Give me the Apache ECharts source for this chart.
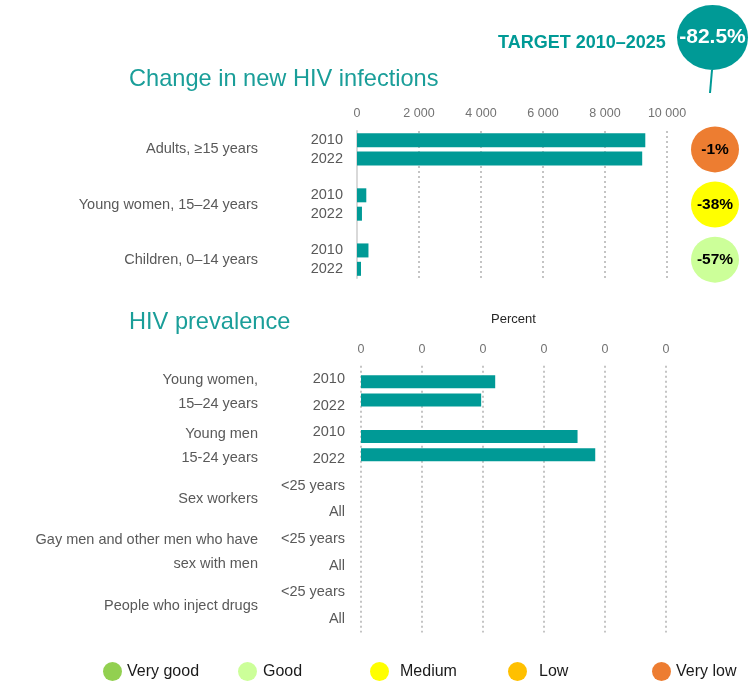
<!DOCTYPE html>
<html>
<head>
<meta charset="utf-8">
<title>Change in new HIV infections / HIV prevalence</title>
<script src="https://cdn.jsdelivr.net/npm/echarts@6.0.0/dist/echarts.min.js"></script>
<style>
  html, body { margin: 0; padding: 0; background: #fff; }
  #chart { width: 750px; height: 686px; }
</style>
</head>
<body>
<div id="chart"></div>
<script>
// --- change in new HIV infections ---
const infectionGroups = ['Adults, ≥15 years', 'Young women, 15–24 years', 'Children, 0–14 years'];
const infections2010 = [9300, 300, 370];
const infections2022 = [9200, 160, 130];
const infectionChange = ['-1%', '-38%', '-57%'];
const infectionRating = ['Very low', 'Medium', 'Good'];
const infectionTicks = ['0', '2 000', '4 000', '6 000', '8 000', '10 000'];

// --- HIV prevalence ---
const prevalenceGroups = ['Young women,\n15–24 years', 'Young men\n15-24 years', 'Sex workers',
  'Gay men and other men who have\nsex with men', 'People who inject drugs'];
const prevalenceRowLabels = [['2010', '2022'], ['2010', '2022'], ['<25 years', 'All'], ['<25 years', 'All'], ['<25 years', 'All']];
const prevalence2010 = [0.22, 0.355];
const prevalence2022 = [0.197, 0.384];
const prevalenceTicks = ['0', '0', '0', '0', '0', '0'];

const targetLabel = 'TARGET 2010–2025';
const targetChange = '-82.5%';

const ratings = ['Very good', 'Good', 'Medium', 'Low', 'Very low'];
const ratingColors = ['#92d050', '#ccff99', '#ffff00', '#ffc000', '#ed7d31'];

const teal = '#009a96';
const titleTeal = '#1a9e99';
const labelGrey = '#595959';
const dots = { color: '#c4c4c4', type: [2, 3], width: 2 };
const ellipse = 'path://M50,0A50,50,0,1,1,50,100A50,50,0,1,1,50,0Z';

// top chart rows: 2010, 2022, spacer, 2010, 2022, ...
const infRows = [];
const infBars = [];
const infCentre = [];
infectionGroups.forEach((g, i) => {
  if (i > 0) { infRows.push(''); infBars.push('-'); }
  infCentre.push(infRows.length + 1);
  infRows.push('2010', '2022');
  infBars.push(infections2010[i], infections2022[i]);
});
const infGroupAxis = new Array(infRows.length + 1).fill('');
infectionGroups.forEach((g, i) => { infGroupAxis[infCentre[i]] = g; });

// bottom chart label rows (two per group)
const prevRows = [];
prevalenceRowLabels.forEach(r => prevRows.push(r[0], r[1]));
const prevGroupAxis = new Array(prevRows.length + 1).fill('');
prevalenceGroups.forEach((g, i) => { prevGroupAxis[2 * i + 1] = g; });

// bottom chart bar rows
const prevBarRows = [];
const prevBars = [];
prevalence2010.forEach((v, i) => {
  if (i > 0) { prevBarRows.push(''); prevBars.push('-'); }
  prevBarRows.push('2010', '2022');
  prevBars.push(prevalence2010[i], prevalence2022[i]);
});

const tickFmt = (labels, step) => v => labels[Math.round(v / step)] ?? '';

const chart = echarts.init(document.getElementById('chart'));

const ratingSeries = ratings.map((r, k) => ({
  name: r,
  type: 'scatter',
  xAxisIndex: 3,
  yAxisIndex: 5,
  symbol: ellipse,
  symbolSize: [48, 46],
  clip: false,
  itemStyle: { color: ratingColors[k], opacity: 1 },
  label: { show: true, position: 'inside', formatter: '{b}', color: '#000', fontWeight: 'bold', fontSize: 15.5 },
  data: infectionGroups
    .map((g, i) => infectionRating[i] === r ? { name: infectionChange[i], value: [0, infCentre[i]] } : null)
    .filter(Boolean)
}));

const legendLeft = [103, 238, 370, 508, 652];
const legendTextPad = [0, 1, 6, 7, 0];

chart.setOption({
  animation: false,
  textStyle: { fontFamily: '"Liberation Sans", Arial, sans-serif' },
  title: [
    { text: 'Change in new HIV infections', left: 129, top: 67, padding: 0,
      textStyle: { color: titleTeal, fontSize: 23.6, fontWeight: 'normal' } },
    { text: 'HIV prevalence', left: 129, top: 310, padding: 0,
      textStyle: { color: titleTeal, fontSize: 23.6, fontWeight: 'normal' } },
    { text: targetLabel, left: 498, top: 34, padding: 0,
      textStyle: { color: teal, fontSize: 18, fontWeight: 'bold' } }
  ],
  legend: ratings.map((r, k) => ({
    data: [r],
    left: legendLeft[k],
    top: 662,
    padding: 0,
    icon: 'circle',
    itemWidth: 19,
    itemHeight: 19,
    selectedMode: false,
    itemStyle: { opacity: 1 },
    textStyle: { fontSize: 16, color: '#1a1a1a', padding: [0, 0, 0, legendTextPad[k]] }
  })),
  grid: [
    { left: 357, right: 83, top: 131, height: 147, outerBoundsMode: 'none' },
    { left: 361, right: 84, top: 365.7, height: 266.7, outerBoundsMode: 'none' },
    { left: 361, right: 84, top: 372.5, height: 91.5, outerBoundsMode: 'none' },
    { left: 690, width: 50, top: 131, height: 147, outerBoundsMode: 'none' },
    { left: 677, width: 71, top: 5, height: 65, outerBoundsMode: 'none' }
  ],
  xAxis: [
    { gridIndex: 0, type: 'value', position: 'top', min: 0, max: 10000, interval: 2000,
      axisLine: { show: false }, axisTick: { show: false },
      axisLabel: { margin: 11, fontSize: 12.5, color: '#737373', formatter: tickFmt(infectionTicks, 2000) },
      splitLine: { show: true, lineStyle: dots } },
    { gridIndex: 1, type: 'value', position: 'top', min: 0, max: 0.5, interval: 0.1,
      name: 'Percent', nameLocation: 'middle', nameGap: 40,
      nameTextStyle: { fontSize: 13, color: '#262626' },
      axisLine: { show: false }, axisTick: { show: false },
      axisLabel: { margin: 10, fontSize: 12.5, color: '#737373', formatter: tickFmt(prevalenceTicks, 0.1) },
      splitLine: { show: true, lineStyle: dots } },
    { gridIndex: 2, type: 'value', min: 0, max: 0.5, show: false, splitLine: { show: false } },
    { gridIndex: 3, type: 'value', min: -1, max: 1, show: false, splitLine: { show: false } },
    { gridIndex: 4, type: 'value', min: -1, max: 1, show: false, splitLine: { show: false } }
  ],
  yAxis: [
    { gridIndex: 0, type: 'category', inverse: true, position: 'left', data: infRows,
      axisLine: { show: true, lineStyle: { color: '#d9d9d9', width: 2 } }, axisTick: { show: false },
      axisLabel: { interval: 0, margin: 14, fontSize: 14.5, color: labelGrey } },
    { gridIndex: 0, type: 'category', inverse: true, position: 'left', boundaryGap: false, data: infGroupAxis,
      axisLine: { show: false }, axisTick: { show: false }, splitLine: { show: false },
      axisLabel: { interval: 0, margin: 99, fontSize: 14.5, color: labelGrey } },
    { gridIndex: 1, type: 'category', inverse: true, position: 'left', data: prevRows,
      axisLine: { show: false }, axisTick: { show: false },
      axisLabel: { interval: 0, margin: 16, fontSize: 14.5, color: labelGrey } },
    { gridIndex: 1, type: 'category', inverse: true, position: 'left', boundaryGap: false, data: prevGroupAxis,
      axisLine: { show: false }, axisTick: { show: false }, splitLine: { show: false },
      axisLabel: { interval: 0, margin: 103, fontSize: 14.5, lineHeight: 24, color: labelGrey } },
    { gridIndex: 2, type: 'category', inverse: true, data: prevBarRows, show: false },
    { gridIndex: 3, type: 'category', inverse: true, boundaryGap: false, data: infGroupAxis, show: false },
    { gridIndex: 4, type: 'value', min: -1, max: 1, show: false, splitLine: { show: false } }
  ],
  series: [
    { name: 'New HIV infections', type: 'bar', xAxisIndex: 0, yAxisIndex: 0,
      barWidth: 14, itemStyle: { color: teal }, data: infBars },
    { name: 'HIV prevalence', type: 'bar', xAxisIndex: 2, yAxisIndex: 4,
      barWidth: 13, itemStyle: { color: teal }, data: prevBars },
    ...ratingSeries,
    { name: 'Target', type: 'scatter', xAxisIndex: 4, yAxisIndex: 6,
      symbol: ellipse, symbolSize: [71, 65], clip: false,
      itemStyle: { color: teal, opacity: 1 },
      label: { show: true, position: 'inside', formatter: '{b}', color: '#fff', fontWeight: 'bold', fontSize: 21 },
      data: [{ name: targetChange, value: [0, 0] }] }
  ],
  graphic: [
    { type: 'line', shape: { x1: 712, y1: 70, x2: 710, y2: 93 }, style: { stroke: teal, lineWidth: 2 } }
  ]
});
</script>
</body>
</html>
